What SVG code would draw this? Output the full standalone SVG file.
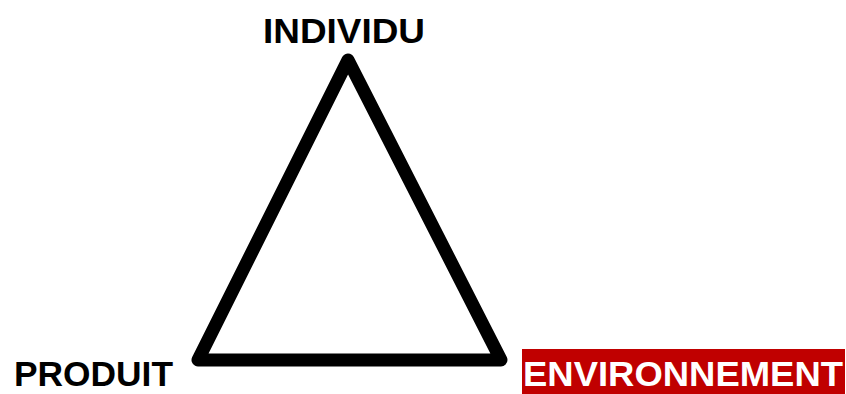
<svg xmlns="http://www.w3.org/2000/svg" width="846" height="394" viewBox="0 0 846 394">
<style>
.lbl{font-family:"Liberation Sans",Arial,sans-serif;font-weight:bold;font-size:35px;fill:#000}
.env{fill:#fff}
.tri{fill:none;stroke:#000;stroke-width:13;stroke-linejoin:round}
</style>
<rect width="846" height="394" fill="#fff"/>
<g id="connectors">
<polygon class="tri" points="348,60 198,360 501,360"/>
</g>
<g id="individu">
<text class="lbl" x="263" y="43" textLength="162" lengthAdjust="spacingAndGlyphs">INDIVIDU</text>
</g>
<g id="produit">
<text class="lbl" x="14" y="386" textLength="159" lengthAdjust="spacingAndGlyphs">PRODUIT</text>
</g>
<g id="environnement">
<rect x="522" y="349" width="323" height="45" fill="#C00000"/>
<text class="lbl env" x="523" y="386" textLength="320" lengthAdjust="spacingAndGlyphs">ENVIRONNEMENT</text>
</g>
</svg>
